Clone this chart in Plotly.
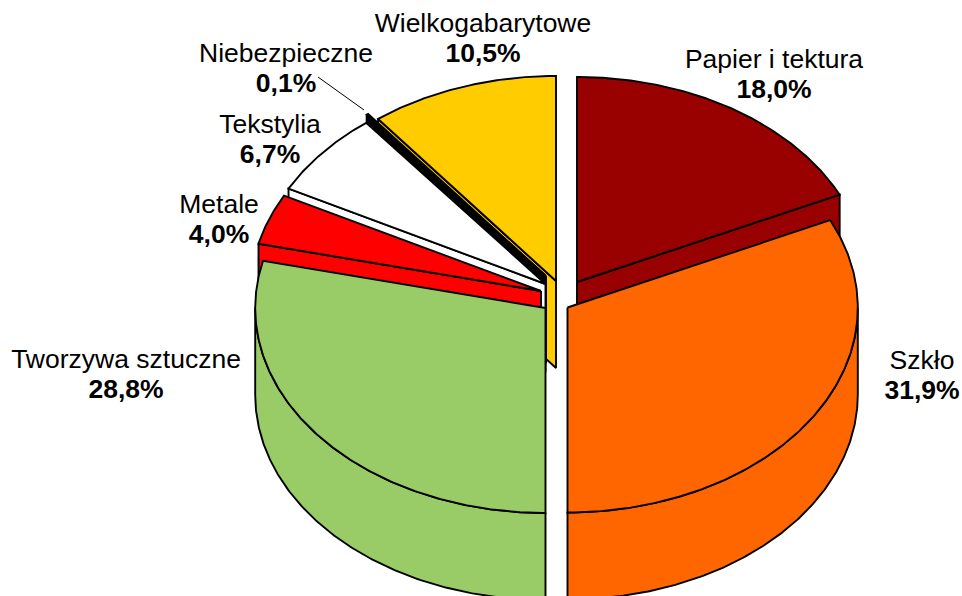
import numpy as np
import plotly.graph_objects as go

categories = ["Papier i tektura", "Szkło", "Tworzywa sztuczne", "Metale", "Tekstylia", "Niebezpieczne", "Wielkogabarytowe"]
shares = [18.0, 31.9, 28.8, 4.0, 6.7, 0.1, 10.5]
colors = ["#990000", "#FF6600", "#99CC66", "#FF0000", "#FFFFFF", "#000000", "#FFCC00"]

# layout of the exploded 3D pie (pixel space of the axes)
APEX = {0: (577, 282), 1: (567.5, 307.5), 2: (545.5, 308), 3: (541, 291), 4: (545.5, 284), 5: (546, 276), 6: (556, 281)}
RX, RY, DEPTH = 290.3, 205, 87
LABEL_POS = {0: (774, 61), 1: (922, 362), 2: (126, 361), 3: (219, 206), 4: (270, 126), 5: (286, 55), 6: (483, 25)}
LINE_GAP = 30
DRAW_ORDER = [0, 6, 5, 4, 3, 2, 1]
FONT_SIZE = 26.5

edges = np.concatenate([[0], np.cumsum(shares)]) * 3.6
# the renderer draws a boundary this close to straight down as exactly vertical
edges[np.abs(edges - 180) < 1] = 180

def rim(c, a0, a1, dy=0):
    t = np.radians(np.linspace(a0, a1, max(2, int(abs(a1 - a0) * 2))))
    return c[0] + RX * np.sin(t), c[1] - RY * np.cos(t) + dy

fig = go.Figure()

def poly(xs, ys, color, width=1.9):
    fig.add_trace(go.Scatter(x=list(xs) + [xs[0]], y=list(ys) + [ys[0]], mode="lines", fill="toself",
                             fillcolor=color, line=dict(color="#000000", width=width),
                             hoverinfo="skip", showlegend=False))

for i in DRAW_ORDER:
    a0, a1 = edges[i], edges[i + 1]
    c = APEX[i]
    col = colors[i]
    # flat radial walls that face the viewer
    for a, visible in ((a0, np.sin(np.radians(a0)) < -1e-6), (a1, np.sin(np.radians(a1)) > 1e-6)):
        if visible:
            rx, ry = rim(c, a, a)
            xs = [c[0], rx[0], rx[0], c[0]]
            ys = [c[1], ry[0], ry[0] + DEPTH, c[1] + DEPTH]
            poly(xs, ys, col)
    # curved outer wall on the front half
    lo, hi = max(a0, 90), min(a1, 270)
    if lo < hi:
        x1, y1 = rim(c, lo, hi)
        x2, y2 = rim(c, hi, lo, DEPTH)
        poly(np.concatenate([x1, x2]), np.concatenate([y1, y2]), col)
    # top face
    x1, y1 = rim(c, a0, a1)
    poly(np.concatenate([[c[0]], x1]), np.concatenate([[c[1]], y1]), col)

# leader line of the smallest slice
fig.add_trace(go.Scatter(x=[318, 364], y=[77, 110], mode="lines", line=dict(color="#000000", width=1),
                         hoverinfo="skip", showlegend=False))

# labels
order = list(range(len(categories)))
fig.add_trace(go.Scatter(x=[LABEL_POS[i][0] for i in order], y=[LABEL_POS[i][1] for i in order],
                         mode="text", text=[categories[i] for i in order], textposition="middle center",
                         textfont=dict(family="Liberation Sans", size=FONT_SIZE, color="#000000"),
                         hoverinfo="skip", showlegend=False, cliponaxis=False))
fig.add_trace(go.Scatter(x=[LABEL_POS[i][0] for i in order], y=[LABEL_POS[i][1] + LINE_GAP for i in order],
                         mode="text", text=[f"<b>{shares[i]:.1f}%</b>".replace(".", ",") for i in order],
                         textposition="middle center",
                         textfont=dict(family="Liberation Sans", size=FONT_SIZE, color="#000000"),
                         hoverinfo="skip", showlegend=False, cliponaxis=False))

fig.update_layout(width=962, height=596, margin=dict(l=0, r=0, t=0, b=0), autosize=False,
                  paper_bgcolor="#FFFFFF", plot_bgcolor="#FFFFFF",
                  xaxis=dict(range=[0, 962], visible=False, fixedrange=True),
                  yaxis=dict(range=[596, 0], visible=False, fixedrange=True))
fig.write_html("out.html", config={"displayModeBar": False},
               post_script="document.body.style.margin='0';document.body.style.overflow='hidden';")
